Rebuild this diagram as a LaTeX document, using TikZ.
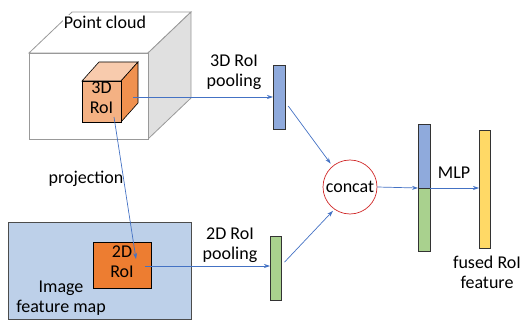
\documentclass[tikz,border=0pt]{standalone}
\usepackage{fontspec}
\setmainfont{Carlito}
\usetikzlibrary{arrows.meta}
\definecolor{arrowblue}{HTML}{4472C4}
\definecolor{barblue}{HTML}{8FAADC}
\definecolor{bargreen}{HTML}{A9D18E}
\definecolor{baryellow}{HTML}{FFD966}
\definecolor{mapblue}{HTML}{BDD0E9}
\definecolor{roiorange}{HTML}{ED7D31}
\definecolor{cubefront}{HTML}{F4B183}
\definecolor{cubetop}{HTML}{F8CBAD}
\definecolor{cubeside}{HTML}{F0914F}
\definecolor{circred}{HTML}{D02828}
\begin{document}
\begin{tikzpicture}[x=1pt,y=-1pt,
  txt/.style={font=\fontsize{18}{20}\selectfont, align=center, inner sep=0pt},
  conn/.style={draw=arrowblue, line width=0.7pt, -{Stealth[length=6pt,width=4pt]}},
  bar/.style={draw=black!80, line width=0.8pt, minimum width=11.5pt, inner sep=0pt, anchor=north west}]
\useasboundingbox (0,0) rectangle (520,321);
% point cloud cube
\draw[draw=black!40, line width=0.8pt, fill=white] (29,53) -- (72,12) -- (191,12) -- (148,53) -- cycle;
\draw[draw=black!40, line width=0.8pt, fill=black!12] (148,53) -- (191,12) -- (191,98) -- (148,139) -- cycle;
\node[draw=black!40, line width=0.8pt, fill=white, minimum width=119pt, minimum height=86pt, anchor=north west, inner sep=0pt] (cloud) at (29,53) {};
\node[txt, fill=white, inner sep=1pt] (pclabel) at (105,22) {Point cloud};
% small 3D RoI cube
\draw[draw=black, line width=0.6pt, fill=cubetop] (82,81) -- (99,62) -- (138,62) -- (121,81) -- cycle;
\draw[draw=black, line width=0.6pt, fill=cubeside] (121,81) -- (138,62) -- (138,103) -- (121,122) -- cycle;
\node[draw=black, line width=0.6pt, fill=cubefront, minimum width=39pt, minimum height=41pt, anchor=north west, inner sep=0pt] (roi3d) at (82,81) {};
\node[txt] (roi3dtext) at (101.5,98) {3D\\RoI};
\coordinate (roiside) at (133,97);
\coordinate (roibottom) at (114,117);
% image feature map
\node[draw=black!70, line width=0.8pt, fill=mapblue, minimum width=183pt, minimum height=97pt, anchor=north west, inner sep=0pt] (imap) at (8,222) {};
\node[txt] (imaplabel) at (61,298) {Image\\feature map};
\node[draw=black, line width=0.8pt, fill=roiorange, minimum width=58pt, minimum height=46pt, anchor=north west, inner sep=0pt] (roi2d) at (93,242) {};
\node[txt] (roi2dtext) at (122,262) {2D\\RoI};
\coordinate (roi2dtip) at (136,259);
\coordinate (roi2dstart) at (145,266);
% bars
\node[bar, fill=barblue, minimum height=64pt] (bar3d) at (273,65) {};
\node[bar, fill=bargreen, minimum height=64pt, minimum width=11pt] (bar2d) at (270,236) {};
\node[bar, fill=barblue, minimum height=64pt] (cattop) at (418,124) {};
\node[bar, fill=bargreen, minimum height=63pt] (catbot) at (418,188) {};
\node[bar, fill=baryellow, minimum height=118pt, minimum width=11pt] (fused) at (479,130) {};
% concat circle
\node[draw=circred, line width=0.7pt, circle, minimum size=54pt, inner sep=0pt, font=\fontsize{18}{20}\selectfont] (concat) at (350,187) {concat};
% labels
\node[txt] (lab3d) at (234,72) {3D RoI\\pooling};
\node[txt] (lab2d) at (230,245) {2D RoI\\pooling};
\node[txt] (labproj) at (86,179) {projection};
\node[txt] (labmlp) at (454,173) {MLP};
\node[txt] (labfused) at (487,272) {fused RoI\\feature};
% connectors
\draw[conn] (roiside) -- (roiside -| bar3d.west);
\draw[conn] (roibottom) -- (roi2dtip);
\draw[conn] (roi2dstart) -- (roi2dstart -| bar2d.west);
\draw[conn, shorten <=5pt, shorten >=3pt] (bar3d.east |- 0,102) -- (concat.130);
\draw[conn, shorten <=4pt, shorten >=2pt] (bar2d.east |- 0,265) -- (concat.235);
\draw[conn] (concat.east) -- (catbot.north west);
\draw[conn] (catbot.north east) -- (fused.west |- catbot.north east);
\end{tikzpicture}
\end{document}
